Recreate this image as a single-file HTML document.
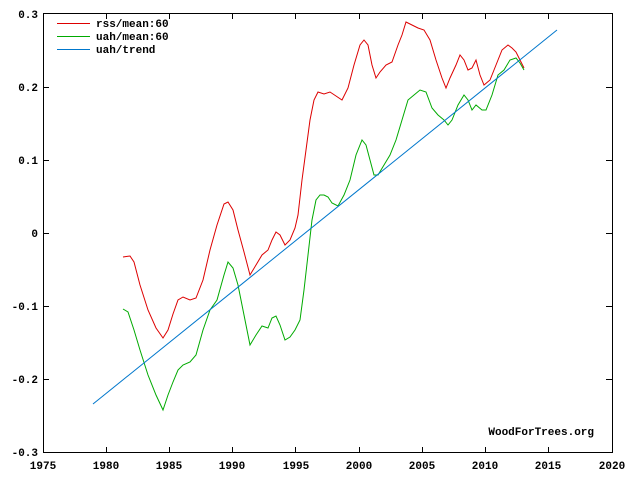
<!DOCTYPE html>
<html><head><style>
body{margin:0;background:#fff}
svg{display:block}
text{font-family:"Liberation Mono",monospace;font-size:11px;font-weight:bold;fill:#000}
</style></head><body>
<svg width="640" height="484" viewBox="0 0 640 484">
<rect x="0" y="0" width="640" height="484" fill="#fff"/>
<rect x="43.5" y="13.5" width="569" height="439" fill="none" stroke="#000" stroke-width="1"/>
<g stroke="#000" stroke-width="1">
<line x1="106.5" y1="453" x2="106.5" y2="447"/><line x1="169.5" y1="453" x2="169.5" y2="447"/>
<line x1="232.5" y1="453" x2="232.5" y2="447"/><line x1="295.5" y1="453" x2="295.5" y2="447"/>
<line x1="359.5" y1="453" x2="359.5" y2="447"/><line x1="422.5" y1="453" x2="422.5" y2="447"/>
<line x1="485.5" y1="453" x2="485.5" y2="447"/><line x1="548.5" y1="453" x2="548.5" y2="447"/>
<line x1="106.5" y1="13" x2="106.5" y2="19"/><line x1="169.5" y1="13" x2="169.5" y2="19"/>
<line x1="232.5" y1="13" x2="232.5" y2="19"/><line x1="295.5" y1="13" x2="295.5" y2="19"/>
<line x1="359.5" y1="13" x2="359.5" y2="19"/><line x1="422.5" y1="13" x2="422.5" y2="19"/>
<line x1="485.5" y1="13" x2="485.5" y2="19"/><line x1="548.5" y1="13" x2="548.5" y2="19"/>
<line x1="43" y1="87.5" x2="49" y2="87.5"/><line x1="43" y1="160.5" x2="49" y2="160.5"/>
<line x1="43" y1="233.5" x2="49" y2="233.5"/><line x1="43" y1="306.5" x2="49" y2="306.5"/>
<line x1="43" y1="379.5" x2="49" y2="379.5"/>
<line x1="612" y1="87.5" x2="606" y2="87.5"/><line x1="612" y1="160.5" x2="606" y2="160.5"/>
<line x1="612" y1="233.5" x2="606" y2="233.5"/><line x1="612" y1="306.5" x2="606" y2="306.5"/>
<line x1="612" y1="379.5" x2="606" y2="379.5"/>
</g>
<g text-anchor="end">
<text x="38" y="18">0.3</text><text x="38" y="91">0.2</text><text x="38" y="164">0.1</text>
<text x="38" y="237">0</text><text x="38" y="310">-0.1</text><text x="38" y="383">-0.2</text>
<text x="38" y="456">-0.3</text>
</g>
<g text-anchor="middle">
<text x="43" y="469">1975</text><text x="106" y="469">1980</text><text x="169" y="469">1985</text>
<text x="232" y="469">1990</text><text x="296" y="469">1995</text><text x="359" y="469">2000</text>
<text x="422" y="469">2005</text><text x="485" y="469">2010</text><text x="548" y="469">2015</text>
<text x="612" y="469">2020</text>
</g>
<line x1="57" y1="23.5" x2="90" y2="23.5" stroke="#d00"/>
<line x1="57" y1="36.5" x2="90" y2="36.5" stroke="#0a0"/>
<line x1="57" y1="49.5" x2="90" y2="49.5" stroke="#07c"/>
<text x="96" y="27">rss/mean:60</text>
<text x="96" y="40">uah/mean:60</text>
<text x="96" y="53">uah/trend</text>
<text x="594" y="435" text-anchor="end">WoodForTrees.org</text>
<polyline fill="none" stroke="#d00" stroke-width="1" points="123,257 130,256 134,262 140,285 148,310 156,328 163,338 168,330 173,314 178,300 183,297 190,300 196,298 203,280 210,250 217,225 224,204 228,202 233,210 238,230 244,252 250,275 256,265 262,255 268,250 272,240 276,232 280,235 285,245 290,240 295,228 298,215 302,180 306,150 310,120 314,100 318,92 324,94 330,92 336,96 342,100 348,88 354,65 360,45 364,40 368,45 372,65 376,78 380,72 386,65 392,62 398,45 402,35 406,22 412,25 418,28 424,30 430,40 436,60 442,78 446,88 450,78 456,65 460,55 464,60 468,70 472,68 476,60 480,75 484,85 490,80 496,65 502,50 508,45 512,48 516,52 520,60 524,68"/>
<polyline fill="none" stroke="#0a0" stroke-width="1" points="123,309 128,312 134,330 140,350 148,375 156,395 163,410 168,395 173,382 178,370 183,365 190,362 196,355 203,330 210,310 217,300 224,275 228,262 233,268 238,285 244,315 250,345 256,335 262,326 268,328 272,318 276,316 280,325 285,340 290,337 295,330 300,320 304,290 308,255 312,220 316,200 320,195 324,195 328,197 332,203 338,206 344,195 350,180 356,155 362,140 366,145 370,160 374,175 378,175 384,165 390,155 396,140 402,120 408,100 414,95 420,90 426,92 432,108 438,115 444,120 448,125 452,120 458,105 464,95 468,100 472,110 476,105 482,110 486,110 492,95 498,75 504,70 510,60 516,58 520,63 524,70"/>
<line x1="93" y1="404" x2="557" y2="30" stroke="#07c" stroke-width="1"/>
</svg>
</body></html>
